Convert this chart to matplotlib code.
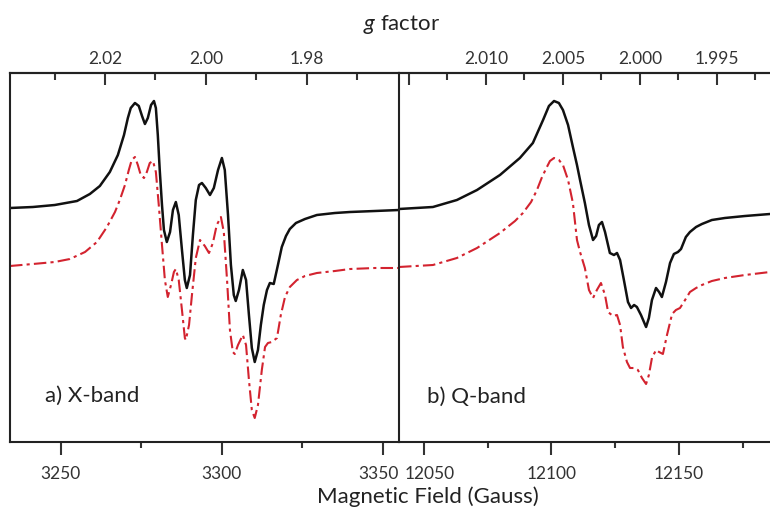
import matplotlib
matplotlib.use("Agg")
import matplotlib.pyplot as plt
import matplotlib.transforms as mtransforms
from matplotlib.ticker import FixedLocator, FixedFormatter

plt.rcParams['font.family'] = ['Lato', 'DejaVu Sans']
plt.rcParams['mathtext.fontset'] = 'custom'
plt.rcParams['mathtext.it'] = 'Lato:italic'
plt.rcParams['mathtext.rm'] = 'Lato'

# ---------------- data (a.u. intensity vs field in Gauss) ----------------
xband_field_exp = [3234.2, 3241.3, 3248.1, 3255.0, 3259.0, 3262.1, 3265.2, 3267.7, 3269.6, 3270.8,
                   3271.7, 3273.0, 3274.2, 3275.2, 3276.1, 3277.0, 3278.0, 3278.9, 3279.5, 3280.1,
                   3280.7, 3281.4, 3282.0, 3282.9, 3283.9, 3284.8, 3285.7, 3286.6, 3287.6, 3288.5,
                   3289.1, 3290.1, 3291.0, 3291.9, 3292.9, 3293.8, 3295.0, 3296.3, 3297.5, 3298.8,
                   3300.0, 3300.9, 3301.9, 3302.8, 3303.7, 3304.3, 3305.3, 3306.5, 3307.5, 3308.4,
                   3309.3, 3310.2, 3311.2, 3312.1, 3313.0, 3314.0, 3314.9, 3316.1, 3317.4, 3318.6,
                   3319.9, 3321.1, 3323.0, 3325.8, 3329.5, 3335.1, 3339.8, 3347.5, 3355.0]
xband_exp = [234, 235, 237, 241, 248, 256, 270, 287, 307, 324,
             334, 339, 336, 326, 318, 324, 337, 341, 334, 307,
             272, 237, 212, 200, 210, 232, 240, 227, 192, 162,
             154, 167, 207, 242, 257, 259, 254, 247, 254, 272,
             284, 272, 227, 177, 147, 141, 152, 172, 162, 127,
             94, 80, 92, 117, 137, 152, 159, 158, 177, 195,
             206, 213, 219, 223, 227, 229, 230, 231, 232]

xband_field_sim = [3234.2, 3241.3, 3248.1, 3252.8, 3257.5, 3261.2, 3264.3, 3266.8, 3268.3, 3269.9,
                   3271.1, 3272.0, 3273.0, 3273.9, 3274.8, 3275.8, 3276.7, 3277.6, 3278.6, 3279.5,
                   3280.4, 3281.4, 3282.3, 3283.2, 3284.2, 3285.1, 3285.7, 3286.6, 3287.6, 3288.5,
                   3288.8, 3289.8, 3290.7, 3291.9, 3293.2, 3294.7, 3296.0, 3297.2, 3298.4, 3299.7,
                   3300.6, 3301.6, 3302.5, 3303.4, 3304.0, 3305.0, 3306.5, 3307.5, 3308.4, 3309.3,
                   3310.2, 3311.2, 3312.4, 3313.4, 3314.3, 3315.5, 3317.1, 3318.3, 3319.6, 3321.1,
                   3323.3, 3325.8, 3329.5, 3335.1, 3339.8, 3347.5, 3355.0]
xband_sim = [176, 178, 180, 183, 190, 200, 215, 230, 242, 257,
             272, 282, 285, 277, 267, 264, 270, 279, 281, 270,
             237, 197, 162, 145, 157, 170, 173, 162, 132, 104,
             102, 117, 147, 184, 202, 196, 189, 199, 217, 225,
             210, 162, 112, 90, 88, 97, 107, 97, 62, 32,
             24, 37, 72, 95, 99, 100, 104, 127, 145, 155,
             162, 166, 169, 171, 173, 174, 174]

qband_field_exp = [12040.2, 12053.5, 12062.9, 12070.8, 12079.8, 12087.6, 12092.7, 12096.7, 12099.0, 12101.0,
                   12102.9, 12104.5, 12106.5, 12108.4, 12110.0, 12111.2, 12113.1, 12114.7, 12116.3, 12117.5,
                   12118.6, 12119.8, 12121.0, 12122.9, 12124.5, 12125.7, 12126.9, 12128.4, 12130.0, 12131.2,
                   12132.4, 12133.5, 12135.1, 12137.1, 12138.2, 12139.4, 12141.0, 12142.2, 12143.3, 12144.9,
                   12146.5, 12148.0, 12149.6, 12150.8, 12152.7, 12154.3, 12156.7, 12159.0, 12162.9, 12168.0,
                   12175.9, 12185.7]
qband_exp = [233, 235, 242, 252, 267, 284, 299, 322, 336, 341,
             339, 332, 317, 295, 277, 262, 239, 217, 202, 206,
             217, 220, 210, 189, 187, 189, 182, 162, 140, 134,
             137, 135, 127, 115, 124, 142, 154, 150, 145, 160,
             179, 188, 190, 193, 205, 210, 215, 218, 222, 224,
             226, 228]

qband_field_sim = [12040.2, 12053.5, 12062.9, 12070.8, 12079.8, 12085.7, 12088.8, 12092.0, 12094.3, 12096.3,
                   12098.2, 12099.4, 12101.0, 12102.9, 12104.5, 12106.5, 12108.4, 12110.0, 12111.2, 12113.1,
                   12114.7, 12116.3, 12117.8, 12119.4, 12121.0, 12122.2, 12124.1, 12125.7, 12126.9, 12128.0,
                   12129.6, 12130.8, 12132.4, 12133.9, 12135.5, 12137.1, 12138.2, 12139.4, 12141.0, 12142.2,
                   12143.7, 12145.3, 12147.3, 12148.8, 12150.4, 12152.4, 12154.3, 12156.7, 12159.0, 12162.9,
                   12168.0, 12175.9, 12185.7]
qband_sim = [175, 177, 184, 194, 209, 221, 229, 240, 252, 265,
             275, 281, 284, 282, 277, 262, 239, 202, 190, 174,
             152, 144, 152, 159, 147, 130, 126, 127, 117, 95,
             80, 74, 74, 72, 64, 58, 67, 84, 92, 90,
             88, 107, 128, 132, 134, 142, 150, 154, 157, 161,
             164, 167, 170]

xband_field_ticks = [3250, 3300, 3350]
xband_field_minor = [3275, 3325]
qband_field_ticks = [12050, 12100, 12150]
qband_field_minor = [12075, 12125, 12175]
xband_g_ticks = [2.02, 2.00, 1.98]
xband_g_labels = ["2.02", "2.00", "1.98"]
xband_g_minor = [2.03, 2.01, 1.99, 1.97]
qband_g_ticks = [2.015, 2.010, 2.005, 2.000, 1.995]
qband_g_labels = ["", "2.010", "2.005", "2.000", "1.995"]
qband_g_minor = [2.0125, 2.0075, 2.0025, 1.9975, 1.9925]

# linear g-scale calibration
XB_B0, XB_G0, XB_SLOPE = 3295.0, 2.00, -0.01 / 15.65
QB_B0, QB_G0, QB_SLOPE = 12104.5, 2.005, -0.0025 / 15.1

# ---------------- figure ----------------
W, H = 770, 518
fig = plt.figure(figsize=(W / 100, H / 100), dpi=100)

def frac_x(px):
    return px / W

def frac_y(py):
    return 1 - py / H

top_px, bot_px = 73, 442
ax_a = fig.add_axes([frac_x(10), frac_y(bot_px), frac_x(399 - 10), (bot_px - top_px) / H])
ax_b = fig.add_axes([frac_x(399), frac_y(bot_px), frac_x(W - 399), (bot_px - top_px) / H])

black = '#111111'
red = '#d3232f'
dashdot = (0, (6, 2, 1.5, 2))

ax_a.plot(xband_field_exp, xband_exp, color=black, lw=1.8, solid_joinstyle='round')
ax_a.plot(xband_field_sim, xband_sim, color=red, lw=1.5, linestyle=dashdot)
ax_b.plot(qband_field_exp, qband_exp, color=black, lw=1.8, solid_joinstyle='round')
ax_b.plot(qband_field_sim, qband_sim, color=red, lw=1.5, linestyle=dashdot)

ax_a.set_xlim(3234.2, 3355.0)
ax_b.set_xlim(12040.2, 12185.7)
for ax in (ax_a, ax_b):
    ax.set_ylim(0, 369)
    ax.set_yticks([])
    for s in ax.spines.values():
        s.set_linewidth(1.5)
        s.set_color('#222222')
ax_a.spines['right'].set_visible(False)
ax_b.spines['right'].set_visible(False)

tick_kw = dict(labelsize=12.5, colors='#333333', width=1.5)

ax_a.set_xticks(xband_field_ticks)
ax_a.set_xticks(xband_field_minor, minor=True)
ax_b.set_xticks(qband_field_ticks)
ax_b.set_xticks(qband_field_minor, minor=True)
for ax in (ax_a, ax_b):
    ax.tick_params(axis='x', which='major', direction='out', length=9, pad=8, **tick_kw)
    ax.tick_params(axis='x', which='minor', direction='out', length=4.5, width=1.5, colors='#333333')

# nudge the two labels that meet at the panel divider apart
fig.canvas.draw()
lab_a = ax_a.get_xticklabels()[-1]
lab_a.set_transform(lab_a.get_transform() + mtransforms.ScaledTranslation(-4 / 100, 0, fig.dpi_scale_trans))
lab_b = ax_b.get_xticklabels()[0]
lab_b.set_transform(lab_b.get_transform() + mtransforms.ScaledTranslation(6 / 100, 0, fig.dpi_scale_trans))

def mk(b0, g0, slope):
    fwd = lambda B: g0 + (B - b0) * slope
    inv = lambda g: b0 + (g - g0) / slope
    return fwd, inv

sec_a = ax_a.secondary_xaxis('top', functions=mk(XB_B0, XB_G0, XB_SLOPE))
sec_a.xaxis.set_major_locator(FixedLocator(xband_g_ticks))
sec_a.xaxis.set_major_formatter(FixedFormatter(xband_g_labels))
sec_a.xaxis.set_minor_locator(FixedLocator(xband_g_minor))
sec_b = ax_b.secondary_xaxis('top', functions=mk(QB_B0, QB_G0, QB_SLOPE))
sec_b.xaxis.set_major_locator(FixedLocator(qband_g_ticks))
sec_b.xaxis.set_major_formatter(FixedFormatter(qband_g_labels))
sec_b.xaxis.set_minor_locator(FixedLocator(qband_g_minor))
for sec in (sec_a, sec_b):
    sec.tick_params(axis='x', which='major', direction='in', length=8.5, pad=4, **tick_kw)
    sec.tick_params(axis='x', which='minor', direction='in', length=5, width=1.5, colors='#333333')
    sec.spines['top'].set_linewidth(1.5)
    sec.spines['top'].set_color('#222222')

ax_a.text(0.09, 0.125, 'a) X-band', transform=ax_a.transAxes, fontsize=16,
          ha='left', va='center', color='#222222')
ax_b.text(0.075, 0.122, 'b) Q-band', transform=ax_b.transAxes, fontsize=16,
          ha='left', va='center', color='#222222')

fig.text(frac_x(402), frac_y(24), r'$g$ factor', fontsize=16, ha='center', va='center', color='#222222')
fig.text(frac_x(428), frac_y(497), 'Magnetic Field (Gauss)', fontsize=16, ha='center', va='center',
         color='#222222')

fig.savefig('out.png', dpi=100)
